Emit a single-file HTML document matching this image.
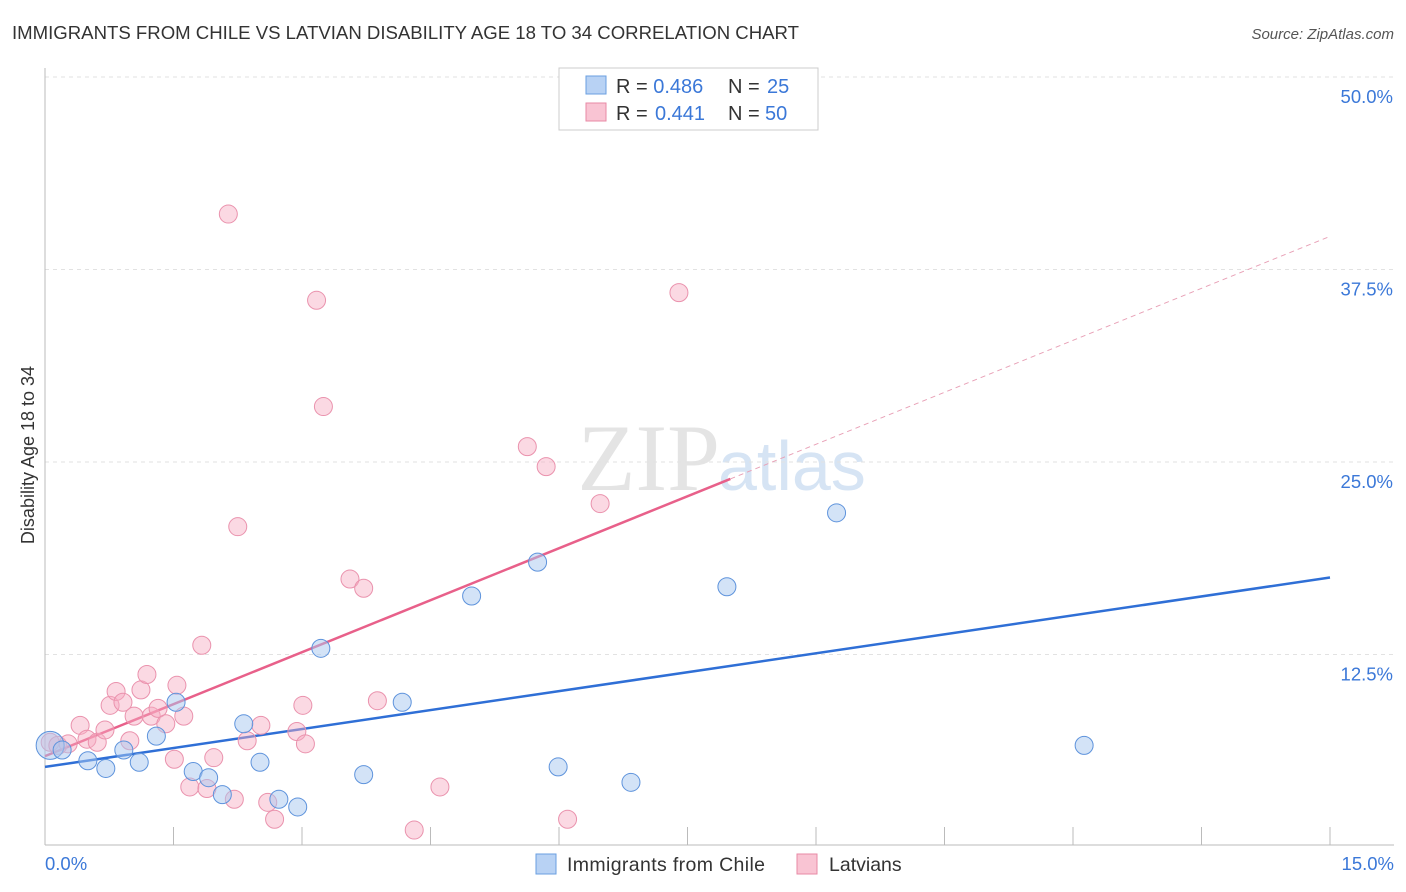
<!DOCTYPE html>
<html><head><meta charset="utf-8"><style>
body{margin:0;background:#fff;font-family:"Liberation Sans",sans-serif;}
svg{display:block}
</style></head><body>
<svg id="chart" width="1406" height="892">
<text x="12" y="39" font-size="18.6" fill="#333" textLength="787">IMMIGRANTS FROM CHILE VS LATVIAN DISABILITY AGE 18 TO 34 CORRELATION CHART</text>
<text x="1394" y="39" font-size="15" fill="#555" font-style="italic" text-anchor="end">Source: ZipAtlas.com</text>
<text x="720" y="490" font-size="95" fill="#e4e4e4" text-anchor="end" font-family="Liberation Serif">ZIP</text>
<text x="718" y="490" font-size="70" fill="#d6e4f4">atlas</text>
<text transform="translate(34,455) rotate(-90)" font-size="18" fill="#333" text-anchor="middle">Disability Age 18 to 34</text>
<g id="grid"></g><g id="trends"></g><g id="pts"></g>
<g>
<rect x="559" y="68" width="259" height="62" fill="#fff" stroke="#ccc"/>
<rect x="586" y="76" width="20" height="18" fill="#b8d2f4" stroke="#6a9fe0"/>
<rect x="586" y="103" width="20" height="18" fill="#f9c4d3" stroke="#e88aa6"/>
<text x="616" y="93" font-size="20" fill="#333">R = <tspan fill="#3b78d8">0.486</tspan><tspan x="728">N = </tspan><tspan fill="#3b78d8" x="767">25</tspan></text>
<text x="616" y="120" font-size="20" fill="#333">R = <tspan fill="#3b78d8" x="655">0.441</tspan><tspan x="728">N = </tspan><tspan fill="#3b78d8" x="765">50</tspan></text>
</g>
<g>
<rect x="536" y="854" width="20" height="20" fill="#b8d2f4" stroke="#6a9fe0"/>
<text x="567" y="871" font-size="19.5" fill="#333" textLength="198">Immigrants from Chile</text>
<rect x="797" y="854" width="20" height="20" fill="#f9c4d3" stroke="#e88aa6"/>
<text x="829" y="871" font-size="19.5" fill="#333">Latvians</text>
</g>
</svg>
<script>
const yTicks=[12.5,25,37.5,50];
const yTickLabels=["12.5%","25.0%","37.5%","50.0%"];
const xTickCount=10;
const chileX=[0.06,0.2,0.5,0.71,0.92,1.1,1.3,1.53,1.73,1.91,2.07,2.32,2.51,2.73,2.95,3.22,3.72,4.17,4.98,5.75,5.99,6.84,7.96,9.24,12.13];
const chileY=[6.6,6.3,5.6,5.1,6.3,5.5,7.2,9.4,4.9,4.5,3.4,8.0,5.5,3.1,2.6,12.9,4.7,9.4,16.3,18.5,5.2,4.2,16.9,21.7,6.6];
const latX=[0.06,0.15,0.27,0.41,0.49,0.61,0.7,0.76,0.83,0.91,0.99,1.04,1.12,1.19,1.24,1.32,1.41,1.51,1.54,1.62,1.69,1.83,1.89,1.97,2.14,2.21,2.25,2.36,2.52,2.6,2.68,2.94,3.01,3.04,3.17,3.25,3.56,3.72,3.88,4.31,4.61,5.63,5.85,6.1,6.48,7.4];
const latY=[6.8,6.6,6.7,7.9,7.0,6.8,7.6,9.2,10.1,9.4,6.9,8.5,10.2,11.2,8.5,9.0,8.0,5.7,10.5,8.5,3.9,13.1,3.8,5.8,41.1,3.1,20.8,6.9,7.9,2.9,1.8,7.5,9.2,6.7,35.5,28.6,17.4,16.8,9.5,1.1,3.9,26.0,24.7,1.8,22.3,36.0];
const chileTrend=[5.2,17.5];
const latTrend=[5.9,2.25,8.0];
const X0=45,X1=1330,Y0=847,PY=15.4;
const px=x=>X0+x/15*(X1-X0), py=y=>Y0-y*PY;
const NS="http://www.w3.org/2000/svg";
function mk(tag,attrs,parent){const e=document.createElementNS(NS,tag);for(const k in attrs)e.setAttribute(k,attrs[k]);parent.appendChild(e);return e;}
const g=document.getElementById('grid');
yTicks.forEach((t,i)=>{
 const l=mk('line',{x1:X0,x2:1394,y1:py(t),y2:py(t),stroke:'#e2e2e2','stroke-dasharray':'4,4'},g);
 
 
 const tx=mk('text',{x:1393,y:py(t)+26,'font-size':18.5,fill:'#3b78d8','text-anchor':'end'},g);
 tx.textContent=yTickLabels[i];
 
 
});
const ax=mk('line',{x1:X0,x2:X0,y1:68,y2:845,stroke:'#bbb'},g);


const bx=mk('line',{x1:X0,x2:1394,y1:845,y2:845,stroke:'#bbb'},g);


for(let i=1;i<=xTickCount;i++){const x=px(15*i/xTickCount);const t=mk('line',{x1:x,x2:x,y1:827,y2:845,stroke:'#bbb'},g);
 
 }
const xl=mk('text',{x:45,y:870,'font-size':18.5,fill:'#3b78d8'},g);xl.textContent='0.0%';


const xr=mk('text',{x:1394,y:870,'font-size':18.5,fill:'#3b78d8','text-anchor':'end'},g);xr.textContent='15.0%';


const tg=document.getElementById('trends');
const tb=mk('line',{x1:px(0),y1:py(chileTrend[0]),x2:px(15),y2:py(chileTrend[1]),stroke:'#2f6fd6','stroke-width':2.5},tg);


const ly=x=>latTrend[0]+latTrend[1]*x;
const tp=mk('line',{x1:px(0),y1:py(ly(0)),x2:px(latTrend[2]),y2:py(ly(latTrend[2])),stroke:'#e8608a','stroke-width':2.5},tg);


const td=mk('line',{x1:px(latTrend[2]),y1:py(ly(latTrend[2])),x2:px(15),y2:py(ly(15)),stroke:'#e8a0b6','stroke-width':1,'stroke-dasharray':'5,4'},tg);


const pg=document.getElementById('pts');
latX.forEach((x,i)=>{const c=mk('circle',{cx:px(x),cy:py(latY[i]),r:9,fill:'rgba(246,170,192,0.45)',stroke:'#ea92ad','stroke-width':1},pg);
 
 });
chileX.forEach((x,i)=>{const c=mk('circle',{cx:px(x),cy:py(chileY[i]),r:i==0?14:9,fill:'rgba(168,200,240,0.5)',stroke:'#5e93dc','stroke-width':1},pg);
 
 });
</script>
</body></html>
